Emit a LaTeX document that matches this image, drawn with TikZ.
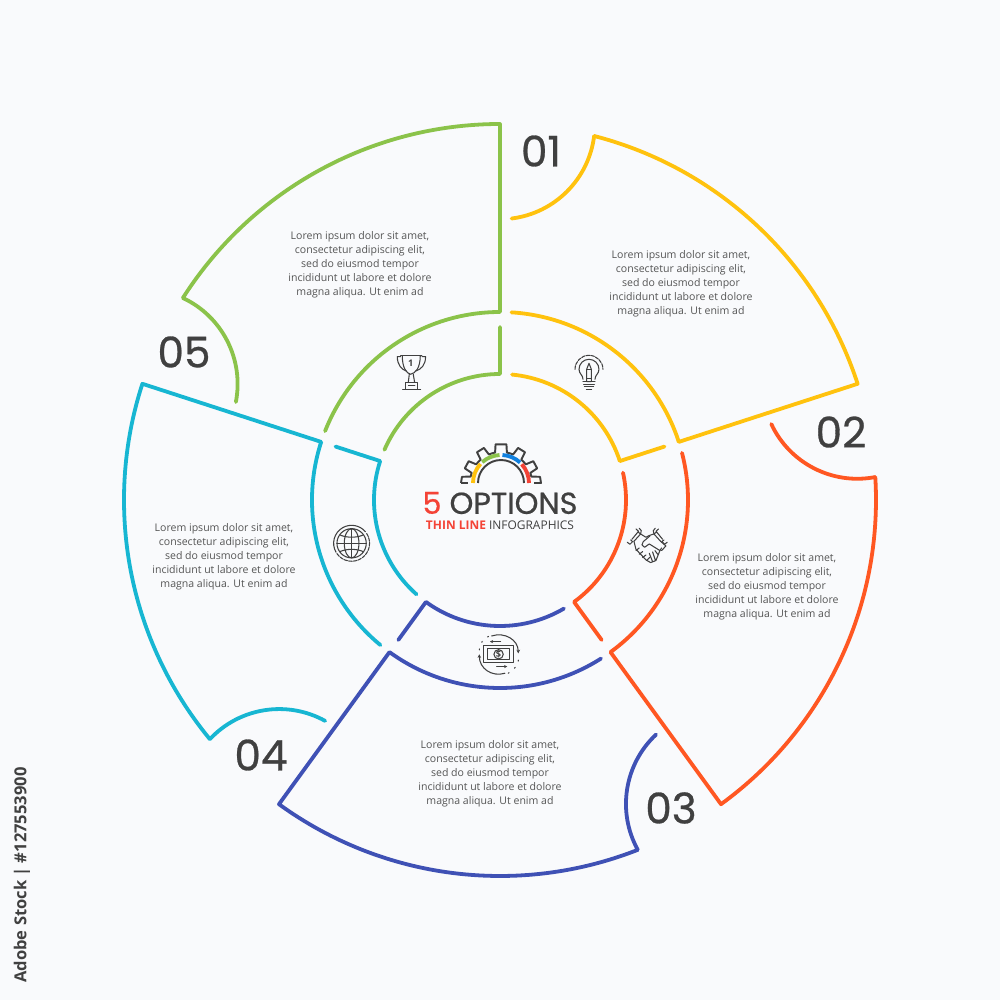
\documentclass[tikz,border=0pt]{standalone}
\usetikzlibrary{arrows.meta}
\usepackage{fontspec}
\setmainfont{Open Sans}
\newfontfamily\numfont[FakeBold=0.7]{Poppins}
\definecolor{bgc}{HTML}{F9FAFC}
\definecolor{cgreen}{HTML}{8BC34A}
\definecolor{cyellow}{HTML}{FFC20E}
\definecolor{corange}{HTML}{FF5722}
\definecolor{cblue}{HTML}{3F51B5}
\definecolor{ccyan}{HTML}{17B6D2}
\definecolor{dark}{HTML}{404040}
\definecolor{bodyc}{HTML}{555555}
\definecolor{cred}{HTML}{F44336}
\tikzset{
  seg/.style={line width=1.08pt,line cap=round,line join=round},
  lorem/.style={align=center,text=bodyc,font=\fontsize{3}{3.98}\selectfont,inner sep=0},
  numlabel/.style={text=dark,font=\numfont\fontsize{12}{12}\selectfont,inner sep=0},
  icon/.style={draw=dark,line width=0.3pt,line cap=round,line join=round},
  gearc/.style={line width=1.1pt},
  gearl/.style={draw=dark,line width=0.55pt,line join=round},
}
\newcommand{\segment}[2]{%
  \begin{scope}[rotate=#1]
    \draw[seg,draw=#2]
      (147.5:376) arc[start angle=147.5,end angle=90,radius=376]
      -- (0,188) arc[start angle=90,end angle=158.5,radius=188]
      (147.5:376) arc[start angle=64.9,end angle=-10.9,radius=95];
    \draw[seg,draw=#2]
      (0,173) -- (0,126) arc[start angle=90,end angle=156.5,radius=126];
  \end{scope}}
\begin{document}
\begin{tikzpicture}[x=0.01cm,y=0.01cm]
\fill[bgc] (-500,-500) rectangle (500,500);
\useasboundingbox (-500,-500) rectangle (500,500);
\segment{0}{cgreen}
\segment{-72}{cyellow}
\segment{-144}{corange}
\segment{-216}{cblue}
\segment{-288}{ccyan}
% numbers
\node[numlabel] (n1) at (41,349) {01};
\node[numlabel] (n2) at (341,68) {02};
\node[numlabel] (n3) at (171,-308) {03};
\node[numlabel] (n4) at (-239,-255) {04};
\node[numlabel] (n5) at (-316,148) {05};
% lorem
\newcommand{\lorem}{Lorem ipsum dolor sit amet,\\consectetur adipiscing elit,\\sed do eiusmod tempor\\incididunt ut labore et dolore\\magna aliqua. Ut enim ad}
\node[lorem] (t5) at (-140,235) {\lorem};
\node[lorem] (t1) at (181,216) {\lorem};
\node[lorem] (t2) at (267,-87) {\lorem};
\node[lorem] (t3) at (-10,-274) {\lorem};
\node[lorem] (t4) at (-276,-57) {\lorem};
% central gear
\begin{scope}[shift={(1,17)}]
  \draw[gearl]
    (180:40) -- (171:39.5) -- (168:31) arc[start angle=168,end angle=161,radius=31]
    -- (158:39) -- (146:39) -- (143:31) arc[start angle=143,end angle=131,radius=31]
    -- (128:39) -- (116:39) -- (113:31) arc[start angle=113,end angle=101,radius=31]
    -- (98:39) -- (82:39) -- (79:31) arc[start angle=79,end angle=67,radius=31]
    -- (64:39) -- (52:39) -- (49:31) arc[start angle=49,end angle=37,radius=31]
    -- (34:39) -- (22:39) -- (19:31) arc[start angle=19,end angle=12,radius=31]
    -- (9:39.5) -- (0:40) -- (0:33);
  \draw[gearl] (180:40) -- (180:33);
  \draw[gearl] (180:23) arc[start angle=180,end angle=0,radius=23];
  \draw[gearc,cyellow] (180:28) arc[start angle=180,end angle=137,radius=28];
  \draw[gearc,cgreen] (132:28) arc[start angle=132,end angle=93,radius=28];
  \draw[gearc,ccyan!70!blue] (87:28) arc[start angle=87,end angle=47,radius=28];
  \draw[gearc,cred] (42:28) arc[start angle=42,end angle=0,radius=28];
\end{scope}
\node[inner sep=0,font=\numfont\fontsize{8.6}{8.6}\selectfont,text=dark] (title) at (0,-3) {\textcolor{cred}{5} OPTIONS};
\node[inner sep=0,font=\fontsize{3.4}{3.4}\selectfont\bfseries,text=dark] (sub) at (0,-25) {\textcolor{cred}{THIN LINE} \mdseries INFOGRAPHICS};
% stock id
\node[rotate=90,inner sep=0,text=dark,font=\fontsize{4.7}{4.7}\selectfont\bfseries] (id) at (-478,-375) {Adobe Stock | \#127553900};
% trophy
\begin{scope}[shift={(-120,160)},x=0.003333cm,y=-0.003333cm]
  \draw[icon] (62,47)--(126,47);
  \draw[icon] (67,47) .. controls (67,85) and (80,100) .. (92,103) .. controls (106,100) and (121,85) .. (121,47);
  \draw[icon] (62,50)--(52,50) .. controls (52,75) and (65,88) .. (78,93);
  \draw[icon] (126,50)--(137,50) .. controls (137,75) and (124,88) .. (108,93);
  \draw[icon] (88,103)--(85,127) (100,103)--(104,127);
  \draw[icon] (78,127) rectangle (112,148);
  \draw[icon] (68,150)--(122,150);
  \draw[icon] (85,138)--(105,138);
  \node[inner sep=0,text=dark,font=\fontsize{2.6}{2.6}\selectfont\bfseries] (cup) at (92,70) {1};
\end{scope}
% bulb
\begin{scope}[shift={(-120,160)},x=0.003333cm,y=-0.003333cm]
  \draw[icon] (610,118) .. controls (610,105) and (598,102) .. (598,88) arc[start angle=180,end angle=360,radius=30] .. controls (658,102) and (646,105) .. (646,118);
  \draw[icon,dash pattern=on 1pt off 0.35pt] (586,88) arc[start angle=180,end angle=360,radius=42];
  \draw[icon] (621,88)--(628,70)--(635,88)--(635,125)--(621,125)--cycle;
  \draw[icon] (621,88)--(635,88) (621,115)--(635,115);
  \draw[icon] (610,125)--(646,125) (612,133)--(644,133) (614,141)--(642,141) (620,149)--(636,149);
\end{scope}
% globe
\begin{scope}[shift={(-180,-10)},x=0.003333cm,y=-0.003333cm]
  \draw[icon] (95,100) circle[radius=44];
  \draw[icon] (95,100) ellipse[x radius=22,y radius=44];
  \draw[icon] (95,56)--(95,144) (51,100)--(139,100);
  \draw[icon] (60,75) .. controls (80,84) and (110,84) .. (130,75);
  \draw[icon] (60,125) .. controls (80,116) and (110,116) .. (130,125);
  \draw[icon,dash pattern=on 1pt off 0.35pt] (95,100) ++(145:54) arc[start angle=145,end angle=-35,radius=54];
  \draw[icon] (95,100) ++(150:54) arc[start angle=150,end angle=320,radius=54];
\end{scope}
% handshake
\begin{scope}[shift={(110,-10)},x=0.003333cm,y=-0.003333cm]
  \draw[icon] (52,97)--(60,103)--(68,95)--(62,90) (66,88)--(84,66) (72,94)--(92,72)--(84,66) (78,57)--(86,64) (88,55)--(94,62)--(92,72);
  \draw[icon] (172,97)--(164,103)--(156,95)--(162,90) (158,88)--(140,66) (152,94)--(132,72)--(140,66) (146,57)--(138,64) (136,55)--(130,62)--(132,72);
  \draw[icon] (92,72)--(108,82) .. controls (118,76) and (125,74) .. (132,72);
  \draw[icon] (120,78)--(100,95)--(96,105)--(104,112)--(118,102)--(150,122)--(155,114);
  \draw[icon] (152,94)--(168,108)--(155,122);
  \draw[icon] (72,94)--(78,118)--(108,150)--(122,158);
  \draw[icon] (78,122)--(88,114) (88,133)--(98,125) (98,143)--(108,135) (110,152)--(120,142);
  \draw[icon] (122,158)--(138,152)--(150,122) (128,155)--(118,130) (136,150)--(128,126) (145,135)--(135,122);
\end{scope}
% money
\begin{scope}[shift={(-40,-120)},x=0.003333cm,y=-0.003333cm]
  \draw[icon] (72,78) rectangle (160,128);
  \draw[icon] (82,86) rectangle (150,120);
  \draw[icon] (116,103) circle[radius=14];
  \node[inner sep=0,text=dark,font=\fontsize{2.6}{2.6}\selectfont\bfseries] (usd) at (116,103) {\$};
  \draw[icon,-{Stealth[length=1pt,width=1pt]}] (95,48) .. controls (135,35) and (175,60) .. (175,100);
  \draw[icon,-{Stealth[length=1pt,width=1pt]}] (135,160) .. controls (95,172) and (58,145) .. (58,103);
  \draw[icon,-{Stealth[length=0.9pt,width=0.9pt]}] (122,65)--(90,65);
  \draw[icon,-{Stealth[length=0.9pt,width=0.9pt]}] (110,140)--(142,140);
  \draw[icon,dotted] (145,160) .. controls (165,150) and (178,130) .. (176,112);
  \draw[icon,dotted] (58,90) .. controls (60,70) and (70,55) .. (88,48);
\end{scope}
\end{tikzpicture}
\end{document}
